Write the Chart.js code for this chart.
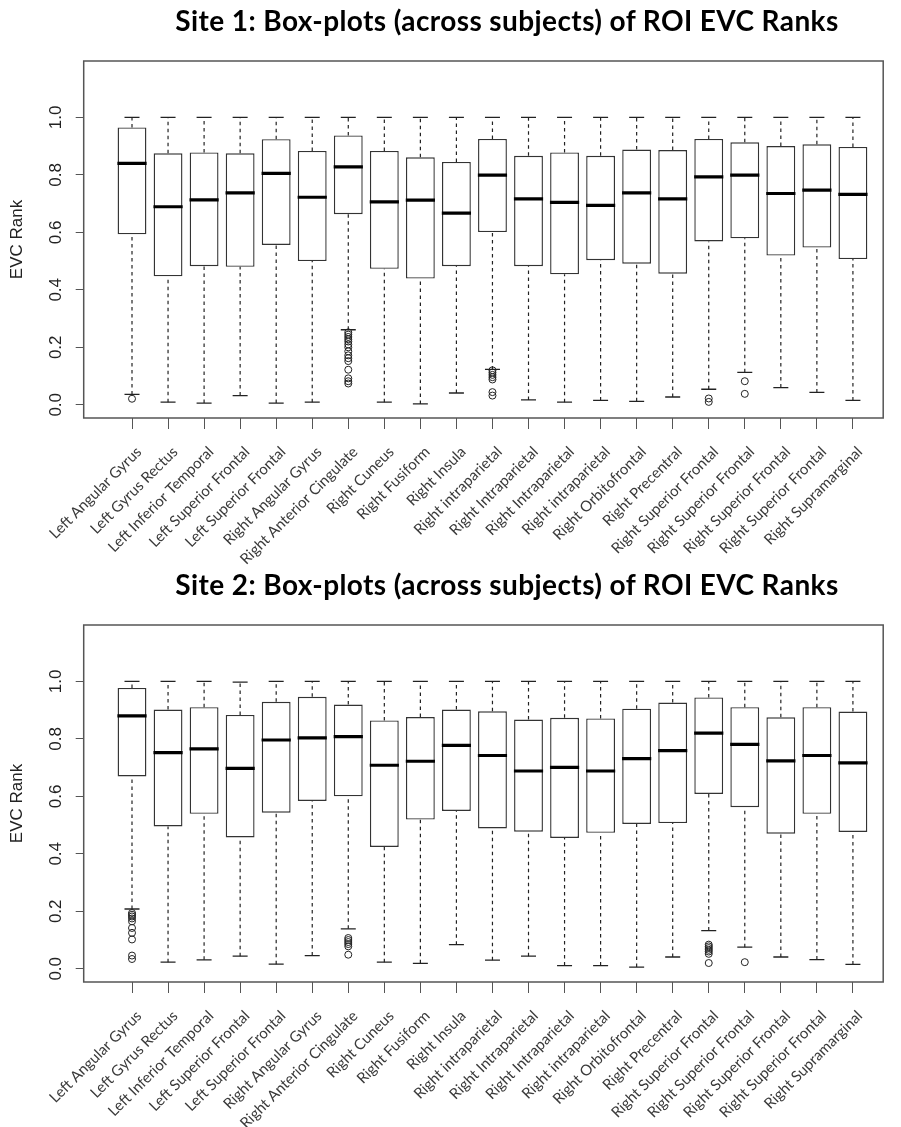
<!DOCTYPE html>
<html>
<head>
<meta charset="utf-8">
<script src="https://cdn.jsdelivr.net/npm/chart.js@4.4.1/dist/chart.umd.min.js"></script>
<style>
  html, body { margin: 0; padding: 0; background: #fff; }
  #page { position: relative; width: 901px; height: 1127px; overflow: hidden; background: #fff; }
  .panel { position: absolute; left: 0; width: 901px; }
  .panel canvas { display: block; }
  .title {
    position: absolute; white-space: nowrap; transform: translateX(-50%);
    font-family: Lato, "Open Sans", "DejaVu Sans", sans-serif; font-weight: 700;
    font-size: 28px; line-height: 33.6px; letter-spacing: 0.4px; color: #000;
  }
</style>
</head>
<body>
<div id="page">
  <div class="panel" style="top:0;height:565px"><canvas id="site1" width="901" height="565"></canvas></div>
  <div class="panel" style="top:565px;height:562px"><canvas id="site2" width="901" height="562"></canvas></div>
  <div class="title" style="left:507px;top:4px">Site 1: Box-plots (across subjects) of ROI EVC Ranks</div>
  <div class="title" style="left:507px;top:568px">Site 2: Box-plots (across subjects) of ROI EVC Ranks</div>
</div>
<script>
// Regions of interest, one box per region
const regions = [
  'Left Angular Gyrus', 'Left Gyrus Rectus', 'Left Inferior Temporal', 'Left Superior Frontal',
  'Left Superior Frontal', 'Right Angular Gyrus', 'Right Anterior Cingulate', 'Right Cuneus',
  'Right Fusiform', 'Right Insula', 'Right intraparietal', 'Right Intraparietal',
  'Right Intraparietal', 'Right intraparietal', 'Right Orbitofrontal', 'Right Precentral',
  'Right Superior Frontal', 'Right Superior Frontal', 'Right Superior Frontal', 'Right Superior Frontal',
  'Right Supramarginal'
];

// Y axis tick values
const yTicks = [0, 0.2, 0.4, 0.6, 0.8, 1.0];
const yTickLabels = ['0.0', '0.2', '0.4', '0.6', '0.8', '1.0'];

// Site 1 box-plot statistics
const s1Lower  = [0.036, 0.009, 0.006, 0.032, 0.006, 0.009, 0.261, 0.009, 0.003, 0.041, 0.123, 0.017, 0.009, 0.015, 0.012, 0.027, 0.054, 0.113, 0.060, 0.043, 0.015];
const s1Q1     = [0.593, 0.447, 0.482, 0.480, 0.556, 0.500, 0.663, 0.473, 0.439, 0.482, 0.601, 0.482, 0.454, 0.503, 0.491, 0.456, 0.568, 0.579, 0.519, 0.547, 0.507];
const s1Median = [0.840, 0.689, 0.713, 0.737, 0.805, 0.722, 0.828, 0.706, 0.712, 0.667, 0.799, 0.716, 0.704, 0.694, 0.737, 0.716, 0.793, 0.799, 0.735, 0.747, 0.732];
const s1Q3     = [0.965, 0.875, 0.878, 0.875, 0.924, 0.883, 0.937, 0.883, 0.861, 0.845, 0.925, 0.866, 0.878, 0.866, 0.888, 0.886, 0.925, 0.913, 0.900, 0.906, 0.897];
const s1Upper  = [1, 1, 1, 1, 1, 1, 1, 1, 1, 1, 1, 1, 1, 1, 1, 1, 1, 1, 1, 1, 1];
const s1Outliers = [
  [0.021], [], [], [], [], [],
  [0.252, 0.244, 0.236, 0.228, 0.220, 0.210, 0.200, 0.186, 0.172, 0.162, 0.152, 0.122, 0.092, 0.082, 0.074],
  [], [], [],
  [0.120, 0.112, 0.104, 0.096, 0.088, 0.044, 0.032],
  [], [], [], [], [],
  [0.022, 0.010],
  [0.082, 0.038],
  [], [], []
];

// Site 2 box-plot statistics
const s2Lower  = [0.208, 0.023, 0.031, 0.044, 0.016, 0.046, 0.139, 0.023, 0.019, 0.084, 0.030, 0.044, 0.011, 0.011, 0.006, 0.041, 0.133, 0.075, 0.041, 0.032, 0.015];
const s2Q1     = [0.669, 0.495, 0.539, 0.457, 0.543, 0.584, 0.600, 0.424, 0.519, 0.549, 0.488, 0.477, 0.455, 0.473, 0.504, 0.507, 0.608, 0.562, 0.470, 0.539, 0.476];
const s2Median = [0.880, 0.752, 0.765, 0.697, 0.796, 0.803, 0.808, 0.708, 0.722, 0.777, 0.742, 0.688, 0.701, 0.688, 0.731, 0.759, 0.820, 0.781, 0.723, 0.742, 0.716];
const s2Q3     = [0.977, 0.902, 0.910, 0.883, 0.929, 0.946, 0.919, 0.864, 0.876, 0.902, 0.896, 0.867, 0.873, 0.871, 0.905, 0.926, 0.944, 0.910, 0.875, 0.910, 0.895];
const s2Upper  = [1, 1, 1, 0.997, 1, 1, 1, 1, 1, 1, 1, 1, 1, 1, 1, 1, 1, 1, 1, 1, 1];
const s2Outliers = [
  [0.194, 0.188, 0.182, 0.175, 0.165, 0.142, 0.125, 0.102, 0.046, 0.034],
  [], [], [], [], [],
  [0.107, 0.100, 0.093, 0.086, 0.078, 0.049],
  [], [], [], [], [], [], [], [], [],
  [0.084, 0.078, 0.072, 0.066, 0.060, 0.052, 0.020],
  [0.023],
  [], [], []
];

const INK = '#222';
const AXIS = '#555';

// Frame around the plotting region and rotated y tick labels
const framePlugin = {
  id: 'boxFrame',
  afterDatasetsDraw(chart) {
    const { ctx, chartArea: a } = chart;
    ctx.save();
    ctx.strokeStyle = AXIS;
    ctx.lineWidth = 1.5;
    ctx.strokeRect(a.left, a.top, a.right - a.left, a.bottom - a.top);
    ctx.restore();
  },
  afterDraw(chart) {
    const { ctx, chartArea: a } = chart;
    const ys = chart.scales.y;
    ctx.save();
    ctx.fillStyle = INK;
    ctx.font = '17px "Liberation Sans", Arial, sans-serif';
    ctx.textAlign = 'center';
    ctx.textBaseline = 'middle';
    yTicks.forEach((v, i) => {
      const y = ys.getPixelForValue(v);
      ctx.save();
      ctx.translate(a.left - 27, y);
      ctx.rotate(-Math.PI / 2);
      ctx.fillText(yTickLabels[i], 0, 0);
      ctx.restore();
    });
    ctx.restore();
  }
};

function buildChart(canvasId, lower, q1, median, q3, upper, outliers, padTop, xAxisHeight) {
  const boxes = q1.map((v, i) => ({ x: i + 1, y: [v, q3[i]] }));
  const medians = median.map((v, i) => ({ x: i + 1, y: v }));
  const caps = [];
  const whiskers = [];
  lower.forEach((lo, i) => {
    const x = i + 1;
    caps.push({ x, y: lo }, { x, y: upper[i] });
    whiskers.push({ x, y: lo }, { x, y: q1[i] }, { x, y: null },
                  { x, y: q3[i] }, { x, y: upper[i] }, { x, y: null });
  });
  const outs = [];
  outliers.forEach((list, i) => list.forEach(v => outs.push({ x: i + 1, y: v })));

  return new Chart(document.getElementById(canvasId), {
    type: 'bar',
    data: {
      datasets: [
        {
          type: 'line', data: whiskers, order: 4,
          borderColor: INK, borderWidth: 1.2, borderDash: [3.5, 3.5],
          pointRadius: 0, spanGaps: false, tension: 0
        },
        {
          type: 'scatter', data: caps, order: 3,
          pointStyle: 'line', pointRadius: 7.5, borderColor: INK, borderWidth: 1.3
        },
        {
          type: 'bar', data: boxes, order: 2,
          backgroundColor: '#fff', borderColor: '#333', borderWidth: 1.4,
          borderSkipped: false, barPercentage: 0.8, categoryPercentage: 1.0
        },
        {
          type: 'scatter', data: medians, order: 1,
          pointStyle: 'line', pointRadius: 14.6, borderColor: '#000', borderWidth: 3.2
        },
        {
          type: 'scatter', data: outs, order: 0,
          pointStyle: 'circle', pointRadius: 3.5, borderColor: INK,
          backgroundColor: 'rgba(0,0,0,0)', borderWidth: 1
        }
      ]
    },
    options: {
      responsive: false,
      animation: false,
      events: [],
      layout: { padding: { top: padTop, right: 6.2, left: 0, bottom: 0 } },
      plugins: { legend: { display: false }, tooltip: { enabled: false }, title: { display: false } },
      scales: {
        x: {
          type: 'linear', min: -0.34, max: 21.84, offset: false,
          afterBuildTicks: s => { s.ticks = regions.map((_, i) => ({ value: i + 1 })); },
          afterFit: s => { s.height = xAxisHeight; },
          border: { display: false },
          grid: { drawOnChartArea: false, drawTicks: true, tickLength: 11, color: AXIS, lineWidth: 1, offset: false },
          ticks: {
            autoSkip: false, minRotation: 45, maxRotation: 45, padding: 14, labelOffset: 7,
            color: '#3a3a3a', font: { family: 'Lato, "Open Sans", sans-serif', size: 15 },
            callback: v => regions[v - 1]
          }
        },
        y: {
          type: 'linear', min: -0.046, max: 1.196,
          afterBuildTicks: s => { s.ticks = yTicks.map(v => ({ value: v })); },
          afterFit: s => { s.width = 83.7; },
          border: { display: false },
          grid: { drawOnChartArea: false, drawTicks: true, tickLength: 8, color: AXIS, lineWidth: 1 },
          ticks: { display: false },
          title: {
            display: true, text: 'EVC Rank', color: INK,
            font: { family: '"Liberation Sans", Arial, sans-serif', size: 17 },
            padding: { top: 7.3, bottom: 0 }
          }
        }
      }
    },
    plugins: [framePlugin]
  });
}

buildChart('site1', s1Lower, s1Q1, s1Median, s1Q3, s1Upper, s1Outliers, 61, 147);
buildChart('site2', s2Lower, s2Q1, s2Median, s2Q3, s2Upper, s2Outliers, 60, 145);
</script>
</body>
</html>
